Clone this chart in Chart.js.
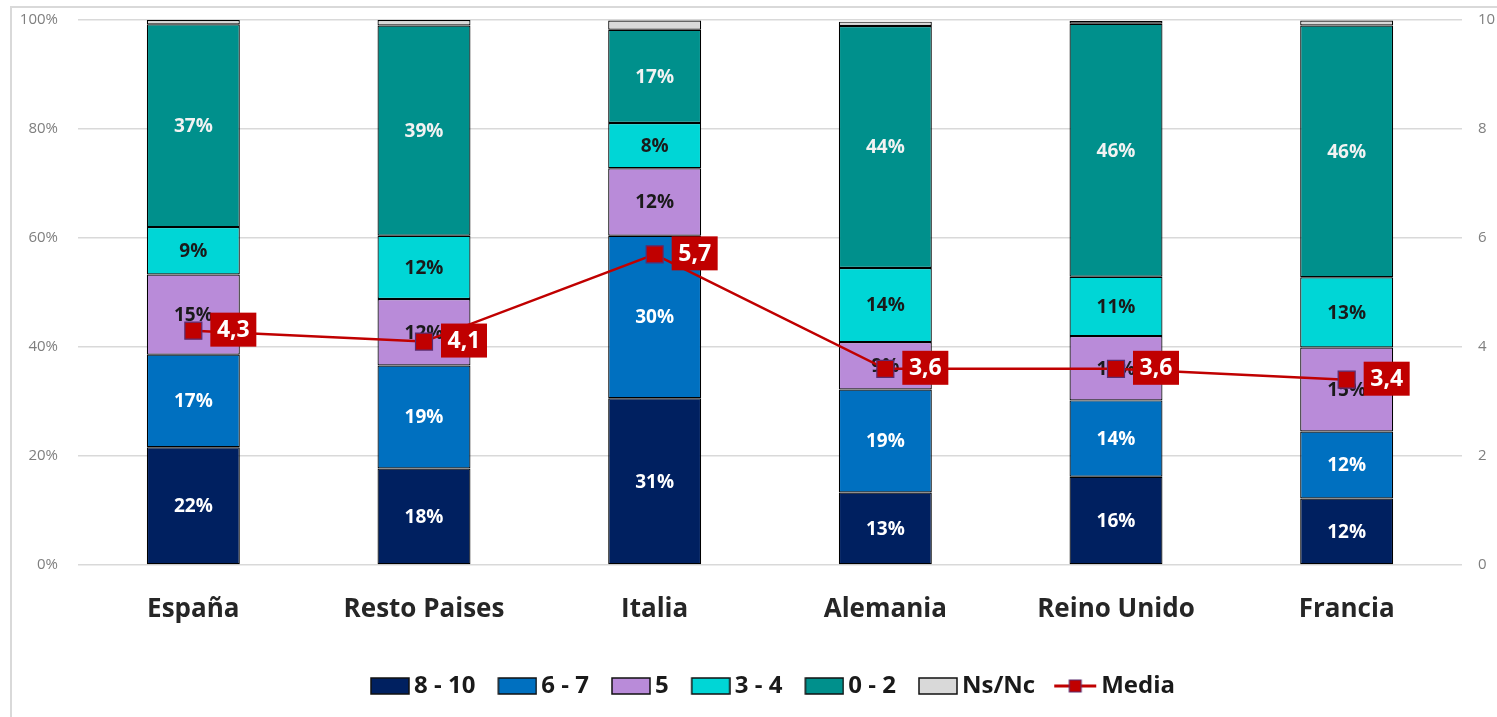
<!DOCTYPE html>
<html>
<head>
<meta charset="utf-8">
<script src="https://cdn.jsdelivr.net/npm/chart.js@4.4.0/dist/chart.umd.min.js"></script>
<style>
  html, body { margin: 0; padding: 0; background: #fff; }
  #wrap { position: relative; width: 1497px; height: 717px; overflow: hidden; }
  #frame { position: absolute; left: 10px; top: 6px; width: 1520px; height: 740px;
           border-left: 2px solid #d9d9d9; border-top: 2px solid #d9d9d9; }
  canvas { position: absolute; left: 0; top: 0; }
</style>
</head>
<body>
<div id="wrap">
  <div id="frame"></div>
  <canvas id="chart" width="1497" height="717"></canvas>
</div>
<script>
const categories = ["España", "Resto Paises", "Italia", "Alemania", "Reino Unido", "Francia"]

// share of answers per score band (%)
const score8to10 = [21.6, 17.7, 30.6, 13.3, 16.2, 12.2]
const score6to7  = [17.0, 18.9, 29.8, 18.9, 14.0, 12.3]
const score5     = [14.7, 12.2, 12.4, 8.7, 11.8, 15.4]
const score3to4  = [8.7, 11.6, 8.3, 13.6, 10.9, 12.9]
const score0to2  = [37.2, 38.6, 17.1, 44.4, 46.4, 46.2]
const nsNc       = [0.8, 1.0, 1.7, 0.8, 0.5, 0.9]

// mean score (right axis, 0-10)
const media = [4.3, 4.1, 5.7, 3.6, 3.6, 3.4]

const pctTicks = [0, 20, 40, 60, 80, 100]
const mediaTicks = [0, 2, 4, 6, 8, 10]

const FONT = "\"Open Sans\", \"DejaVu Sans\", sans-serif"
const RED = "#C00000"

Chart.defaults.font.family = FONT

function swatch(fill) {
  const c = document.createElement("canvas")
  c.width = 58
  c.height = 22
  const g = c.getContext("2d")
  g.fillStyle = fill
  g.fillRect(19, 3, 38, 16)
  g.strokeStyle = "#111"
  g.lineWidth = 1.5
  g.strokeRect(19, 3, 38, 16)
  return c
}

function lineSwatch() {
  const c = document.createElement("canvas")
  c.width = 58
  c.height = 22
  const g = c.getContext("2d")
  g.strokeStyle = RED
  g.lineWidth = 3
  g.beginPath()
  g.moveTo(15, 11)
  g.lineTo(57, 11)
  g.stroke()
  g.fillStyle = RED
  g.fillRect(30, 5, 12, 12)
  g.strokeStyle = "#5b2c6f"
  g.lineWidth = 1
  g.strokeRect(30, 5, 12, 12)
  return c
}

function barSet(label, data, color, labelColor) {
  return {
    label,
    data,
    backgroundColor: color,
    borderColor: "#000",
    borderWidth: 1.2,
    borderSkipped: false,
    labelColor,
    order: 1,
    legendIcon: swatch(color)
  }
}

const datasets = [
  barSet("8 - 10", score8to10, "#002060", "#ffffff"),
  barSet("6 - 7", score6to7, "#0070C0", "#ffffff"),
  barSet("5", score5, "#B98BD9", "#1a1a1a"),
  barSet("3 - 4", score3to4, "#00D6D6", "#1a1a1a"),
  barSet("0 - 2", score0to2, "#00908C", "#f2f2f2"),
  barSet("Ns/Nc", nsNc, "#D9D9D9", null),
  {
    type: "line",
    label: "Media",
    data: media,
    yAxisID: "y1",
    borderColor: RED,
    borderWidth: 2.5,
    tension: 0,
    pointStyle: "rect",
    pointRadius: 12,
    pointBackgroundColor: RED,
    pointBorderColor: "#5b2c6f",
    pointBorderWidth: 1.2,
    order: 0,
    legendIcon: lineSwatch()
  }
]

const fmt = (v) => v.toFixed(1).replace(".", ",")

const labelsPlugin = {
  id: "segmentLabels",
  afterDatasetDraw(chart, args) {
    const ds = chart.data.datasets[args.index]
    if (ds.type === "line" || !ds.labelColor) return
    const ctx = chart.ctx
    ctx.save()
    ctx.font = "bold 19px " + FONT
    ctx.textAlign = "center"
    ctx.textBaseline = "middle"
    ctx.fillStyle = ds.labelColor
    args.meta.data.forEach((bar, j) => {
      const { x, y, base } = bar.getProps(["x", "y", "base"], true)
      ctx.fillText(Math.round(ds.data[j]) + "%", x, (y + base) / 2 + 1)
    })
    ctx.restore()
  },
  afterDatasetsDraw(chart) {
    const idx = chart.data.datasets.findIndex((d) => d.type === "line")
    const meta = chart.getDatasetMeta(idx)
    const ctx = chart.ctx
    ctx.save()
    ctx.font = "bold 23px " + FONT
    ctx.textAlign = "center"
    ctx.textBaseline = "middle"
    meta.data.forEach((pt, j) => {
      const bx = pt.x + 17
      const by = pt.y - 18
      ctx.fillStyle = RED
      ctx.fillRect(bx, by, 46, 34)
      ctx.fillStyle = "#ffffff"
      ctx.fillText(fmt(media[j]), bx + 23, by + 18)
    })
    ctx.restore()
  }
}

const tickFont = { family: FONT, size: 15 }
const tickColor = "#7f7f7f"

new Chart(document.getElementById("chart"), {
  type: "bar",
  data: { labels: categories, datasets },
  plugins: [labelsPlugin],
  options: {
    responsive: false,
    animation: false,
    devicePixelRatio: 1,
    layout: { padding: { top: 20, left: 0, right: -38, bottom: 9 } },
    datasets: {
      bar: { categoryPercentage: 1, barPercentage: 0.403 }
    },
    plugins: {
      tooltip: { enabled: false },
      legend: {
        position: "bottom",
        labels: {
          usePointStyle: true,
          pointStyleWidth: 42,
          padding: 12,
          color: "#1a1a1a",
          font: { family: FONT, size: 24, weight: "bold" },
          generateLabels: (chart) => chart.data.datasets.map((ds, i) => ({
            text: ds.label,
            pointStyle: ds.legendIcon,
            datasetIndex: i,
            hidden: false,
            fillStyle: "transparent",
            strokeStyle: "transparent",
            lineWidth: 0,
            fontColor: "#1a1a1a"
          }))
        }
      }
    },
    scales: {
      x: {
        stacked: true,
        grid: { display: false },
        border: { display: false },
        ticks: {
          padding: 21,
          color: "#262626",
          font: { family: FONT, size: 26, weight: "bold" }
        },
        afterFit: (s) => { s.height = 97 }
      },
      y: {
        stacked: true,
        min: 0,
        max: 100,
        border: { display: false },
        // invisible tick marks keep the labels off the plot without adding top padding
        grid: { color: "#d9d9d9", lineWidth: 1.5, drawTicks: true, tickLength: 17, tickColor: "rgba(0,0,0,0)" },
        afterBuildTicks: (s) => { s.ticks = pctTicks.map((v) => ({ value: v })) },
        ticks: {
          padding: 3,
          color: tickColor,
          font: tickFont,
          callback: (v) => v + "%"
        },
        afterFit: (s) => { s.width = 78 }
      },
      y1: {
        position: "right",
        min: 0,
        max: 10,
        border: { display: false },
        grid: { display: false, drawOnChartArea: false, drawTicks: true, tickLength: 13, tickColor: "rgba(0,0,0,0)" },
        afterBuildTicks: (s) => { s.ticks = mediaTicks.map((v) => ({ value: v })) },
        ticks: {
          padding: 3,
          color: tickColor,
          font: tickFont
        },
        afterFit: (s) => { s.width = 73 }
      }
    }
  }
})
</script>
</body>
</html>
